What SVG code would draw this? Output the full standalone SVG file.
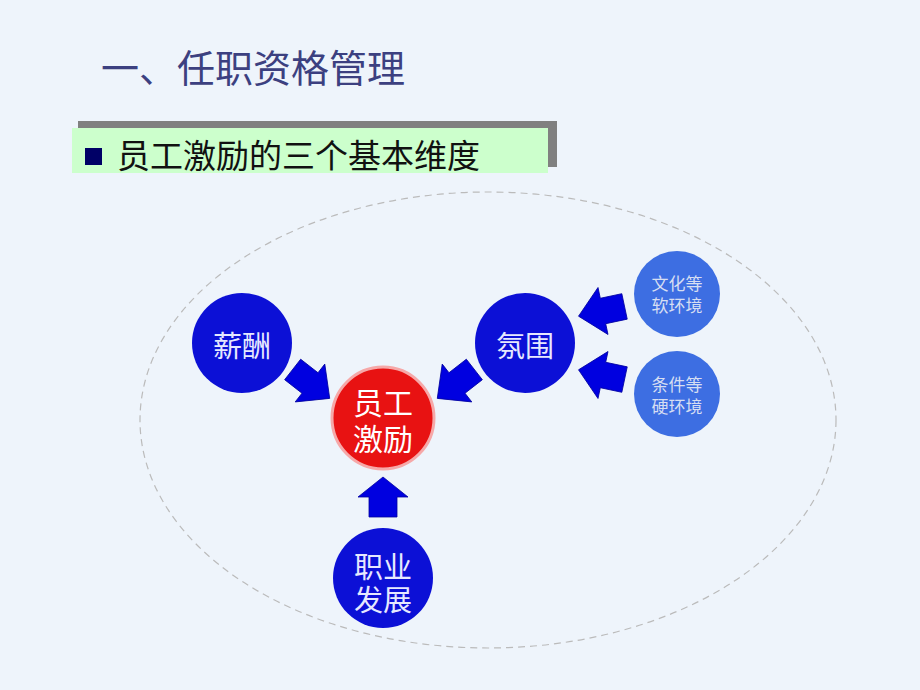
<svg xmlns="http://www.w3.org/2000/svg" width="920" height="690" viewBox="0 0 920 690">
<defs>
<style>
.cjk{font-family:"Noto Sans CJK SC","Noto Sans",sans-serif;}
.big{fill:#0C10D6;}
.small{fill:#3D6EE2;}
.lbl{fill:#E6E8FF;font-size:29px;text-anchor:middle;}
.slbl{fill:#D6DEF2;font-size:17px;text-anchor:middle;}
.arr{fill:#0000E0;stroke:#0000A0;stroke-width:0.8;}
</style>
<path id="ba" d="M-22,-13 L0,-13 L0,-24 L25,0 L0,24 L0,13 L-22,13 Z"/>
</defs>
<rect x="0" y="0" width="920" height="690" fill="#EEF4FB"/>
<text class="cjk" x="101" y="82" font-size="38" fill="#3C4080">一、任职资格管理</text>
<g id="subtitle">
<rect x="78" y="121" width="479" height="46" fill="#808080"/>
<rect x="72" y="128" width="476" height="45" fill="#CCFFCC"/>
<rect x="85" y="148" width="17" height="17" fill="#000066"/>
<text class="cjk" x="117" y="168" font-size="33" fill="#111111">员工激励的三个基本维度</text>
</g>
<ellipse cx="488" cy="420" rx="348" ry="228" fill="none" stroke="#BBBBBB" stroke-width="1.2" stroke-dasharray="7,5"/>
<g id="connectors">
<use href="#ba" class="arr" transform="translate(310,383) rotate(38)"/>
<use href="#ba" class="arr" transform="translate(457,383) rotate(142)"/>
<use href="#ba" class="arr" transform="translate(603,311) rotate(168)"/>
<use href="#ba" class="arr" transform="translate(603,375) rotate(192)"/>
<path class="arr" d="M369,517 L369,497 L358,497 L383,477 L408,497 L397,497 L397,517 Z"/>
</g>
<g id="xinchou">
<circle cx="242" cy="343" r="50" class="big"/>
<text class="cjk lbl" x="242" y="357">薪酬</text>
</g>
<g id="center">
<circle cx="383" cy="418" r="51" fill="#E81212" stroke="#F6A8A8" stroke-width="3"/>
<text class="cjk" font-size="30" fill="#FFFFFF" text-anchor="middle"><tspan x="383" y="414">员工</tspan><tspan x="383" y="450">激励</tspan></text>
</g>
<g id="fenwei">
<circle cx="525" cy="343" r="50" class="big"/>
<text class="cjk lbl" x="525" y="357">氛围</text>
</g>
<g id="ruan">
<circle cx="677" cy="294" r="43" class="small"/>
<text class="cjk slbl"><tspan x="677" y="290">文化等</tspan><tspan x="677" y="312">软环境</tspan></text>
</g>
<g id="ying">
<circle cx="677" cy="394" r="43" class="small"/>
<text class="cjk slbl"><tspan x="677" y="391">条件等</tspan><tspan x="677" y="413">硬环境</tspan></text>
</g>
<g id="zhiye">
<circle cx="383" cy="578" r="50" class="big"/>
<text class="cjk lbl"><tspan x="383" y="578">职业</tspan><tspan x="383" y="611">发展</tspan></text>
</g>
</svg>
